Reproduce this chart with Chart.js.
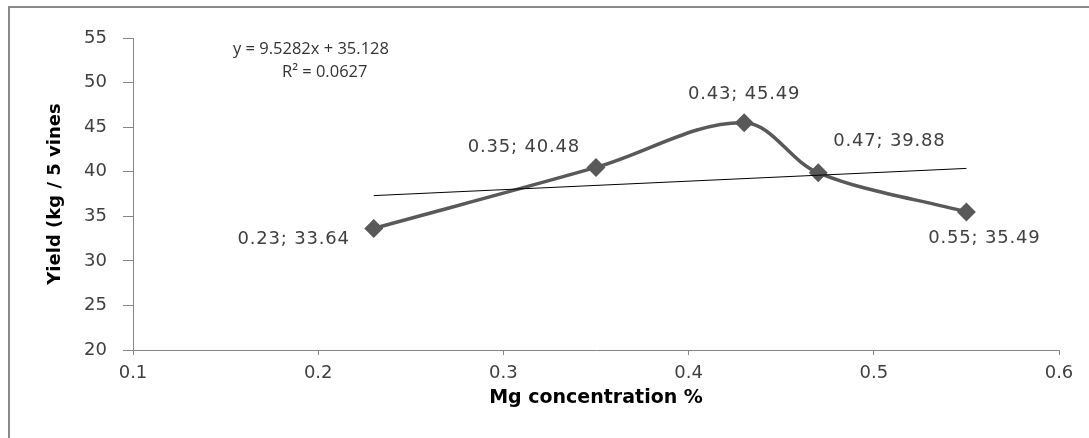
<!DOCTYPE html>
<html>
<head>
<meta charset="utf-8">
<script src="https://cdn.jsdelivr.net/npm/chart.js@4/dist/chart.umd.min.js"></script>
<style>
html, body { margin: 0; padding: 0; background: #fff; overflow: hidden; }
</style>
</head>
<body>
<canvas id="myChart" width="1089" height="438"></canvas>
<script>
// values
var mgConc = [0.23, 0.35, 0.43, 0.47, 0.55];
var yieldVals = [33.64, 40.48, 45.49, 39.88, 35.49];
var trendX = [0.23, 0.55];
var trendY = [37.32, 40.37];
var eqLines = ['y = 9.5282x + 35.128', 'R\u00b2 = 0.0627'];
var xTicks = [0.1, 0.2, 0.3, 0.4, 0.5, 0.6];
var yTicks = [20, 25, 30, 35, 40, 45, 50, 55];

var axisGray = '#868686';
var textCol = '#404040';

// where each data label sits relative to its point
var labelPos = [
    {dx: -24, dy: 11, align: 'right'},
    {dx: -16, dy: -20, align: 'right'},
    {dx: 0, dy: -28, align: 'center'},
    {dx: 15, dy: -31, align: 'left'},
    {dx: 18, dy: 26, align: 'center'}
];

var extras = {
    id: 'extras',
    afterDraw: function(chart) {
        var ctx = chart.ctx;
        ctx.save();
        // outer frame (left + top only, rest is cut off)
        ctx.strokeStyle = '#8a8a8a';
        ctx.lineWidth = 2;
        ctx.beginPath();
        ctx.moveTo(9, 438);
        ctx.lineTo(9, 7);
        ctx.lineTo(1089, 7);
        ctx.stroke();

        // data labels
        var meta = chart.getDatasetMeta(0);
        ctx.fillStyle = textCol;
        ctx.font = '18px "DejaVu Sans"';
        ctx.letterSpacing = '0.8px';
        ctx.textBaseline = 'middle';
        for (var i = 0; i < meta.data.length; i++) {
            var pt = meta.data[i];
            var lp = labelPos[i];
            ctx.textAlign = lp.align;
            ctx.fillText(mgConc[i] + '; ' + yieldVals[i], pt.x + lp.dx, pt.y + lp.dy);
        }

        // trendline equation
        ctx.letterSpacing = '0px';
        ctx.fillStyle = '#333';
        ctx.font = '16.5px "Open Sans"';
        ctx.textAlign = 'left';
        ctx.fillText(eqLines[0], 233, 49);
        ctx.fillText(eqLines[1], 282, 72);
        ctx.restore();
    }
};

function plot() {
    var ctx = document.getElementById('myChart').getContext('2d');
    var pts = [];
    for (var i = 0; i < mgConc.length; i++) {
        pts.push({x: mgConc[i], y: yieldVals[i]});
    }
    var trend = [];
    for (var j = 0; j < trendX.length; j++) {
        trend.push({x: trendX[j], y: trendY[j]});
    }
    var config = {
        type: 'scatter',
        data: {
            datasets: [{
                data: pts,
                showLine: true,
                tension: 0.35,
                borderColor: '#595959',
                borderWidth: 3.5,
                pointStyle: 'rectRot',
                pointRadius: 7,
                pointBackgroundColor: '#595959',
                pointBorderColor: '#595959',
                order: 1
            }, {
                data: trend,
                showLine: true,
                borderColor: '#000',
                borderWidth: 1,
                pointRadius: 0,
                order: 0
            }]
        },
        options: {
            responsive: false,
            animation: false,
            layout: {padding: {left: 41, top: 38, right: 30, bottom: 25}},
            plugins: {legend: {display: false}, tooltip: {enabled: false}},
            scales: {
                x: {
                    type: 'linear',
                    min: 0.1,
                    max: 0.6,
                    afterBuildTicks: function(s) { s.ticks = xTicks.map(function(v) { return {value: v}; }); },
                    afterFit: function(s) { s.height = 63; },
                    grid: {drawOnChartArea: false, drawTicks: true, tickLength: 5, color: axisGray},
                    border: {color: axisGray, width: 1},
                    ticks: {
                        font: {family: 'DejaVu Sans', size: 18},
                        color: textCol,
                        padding: 8,
                        maxRotation: 0,
                        callback: function(v) { return v.toFixed(1); }
                    },
                    title: {
                        display: true,
                        text: 'Mg concentration %',
                        font: {family: 'DejaVu Sans', size: 19, weight: 'bold'},
                        color: '#000'
                    }
                },
                y: {
                    min: 20,
                    max: 55,
                    afterBuildTicks: function(s) { s.ticks = yTicks.map(function(v) { return {value: v}; }); },
                    afterFit: function(s) { s.width = 92; },
                    grid: {drawOnChartArea: false, drawTicks: true, tickLength: 10, color: axisGray},
                    border: {color: axisGray, width: 1},
                    ticks: {
                        font: {family: 'DejaVu Sans', size: 18},
                        color: textCol,
                        padding: 16
                    },
                    title: {
                        display: true,
                        text: 'Yield (kg / 5 vines',
                        font: {family: 'DejaVu Sans', size: 18, weight: 'bold'},
                        color: '#000'
                    }
                }
            }
        },
        plugins: [extras]
    };
    plot.myChart = new Chart(ctx, config);
}
plot();
</script>
</body>
</html>
